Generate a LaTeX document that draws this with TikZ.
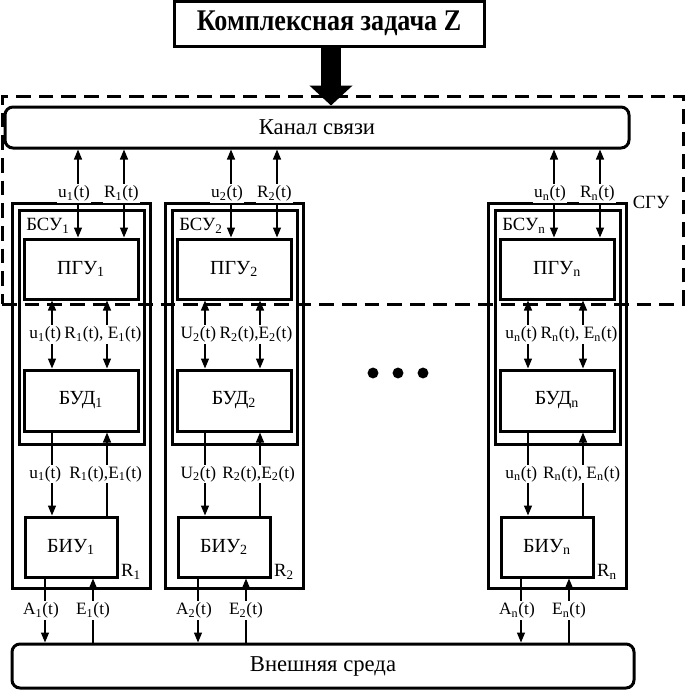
\documentclass[tikz,border=0pt]{standalone}
\usepackage{fontspec}
\usepackage{graphicx}
\setmainfont{Liberation Serif}
\usetikzlibrary{arrows.meta,calc}
\tikzset{
  frame/.style={draw, line width=2.25pt, inner sep=0pt},
  blk/.style={frame, font=\fontsize{15pt}{17pt}\selectfont},
  txt/.style={inner sep=0pt, font=\fontsize{14pt}{16pt}\selectfont},
  conn/.style={line width=1pt, -{Triangle[width=6pt,length=7.5pt]}},
  dconn/.style={line width=1pt, {Triangle[width=6pt,length=7.5pt]}-{Triangle[width=6pt,length=7.5pt]}},
  lbl/.style={fill=white, inner sep=1pt, font=\fontsize{13pt}{15pt}\selectfont},
  dotnode/.style={circle, fill=black, inner sep=0pt, minimum size=8.2pt},
}
\newcommand\sbs[1]{\textsubscript{#1}}
\newcommand\grp[7]{%
  \begin{scope}[xshift={#1*0.75pt}]
  \node[frame, minimum width=103.5pt, minimum height=288.75pt] (R#2) at (81,395.5) {};
  \node[frame, minimum width=93.75pt, minimum height=175.5pt] (S#2) at (81.5,327) {};
  \node[blk, minimum width=85.5pt, minimum height=45pt] (P#2) at (81,269) {ПГУ\sbs{#3}};
  \node[blk, minimum width=85.5pt, minimum height=45.75pt] (D#2) at (81,400.5) {БУД\sbs{#3}};
  \node[blk, minimum width=69pt, minimum height=45pt] (I#2) at (71,547) {БИУ\sbs{#3}};
  \node[txt, anchor=west] (SL#2) at (26,226) {БСУ\sbs{#3}};
  \node[txt] (RL#2) at (131,572) {R\sbs{#3}};
  \draw[dconn] (chan.south -| 78,0) -- node[lbl, xshift=-3pt]{u\sbs{#3}(t)} (P#2.north -| 78,0);
  \draw[dconn] (chan.south -| 124,0) -- node[lbl, xshift=-2pt]{R\sbs{#3}(t)} (P#2.north -| 124,0);
  \draw[dconn] (P#2.south -| 52,0) -- node[lbl, xshift=-5pt]{#4\sbs{#3}(t)} (D#2.north -| 52,0);
  \draw[dconn] (P#2.south -| 107,0) -- node[lbl, xshift=-3pt]{R\sbs{#3}(t)#6E\sbs{#3}(t)} (D#2.north -| 107,0);
  \draw[conn] (D#2.south -| 52,0) -- node[lbl, xshift=-5pt]{#5\sbs{#3}(t)} (I#2.north -| 52,0);
  \draw[conn] (I#2.north -| 107,0) -- node[lbl, xshift=-1pt]{R\sbs{#3}(t)#7E\sbs{#3}(t)} (D#2.south -| 107,0);
  \draw[conn] (I#2.south -| 45,0) -- node[lbl, xshift=-3pt]{A\sbs{#3}(t)} (env.north -| 45,0);
  \draw[conn] (env.north -| 93,0) -- node[lbl]{E\sbs{#3}(t)} (I#2.south -| 93,0);
  \end{scope}}
\begin{document}
\begin{tikzpicture}[x=0.75pt,y=-0.75pt]
\useasboundingbox (0,0) rectangle (686,690);
% system region
\node[draw, line width=2.25pt, dash pattern=on 11pt off 6pt, inner sep=0pt,
      minimum width=510.75pt, minimum height=156pt] (sgu) at (342.5,200) {};
\node[txt] (sgul) at (651,202) {СГУ};
% title
\node[frame, minimum width=232.5pt, minimum height=33.75pt] (task) at (329,23.5)
  {\fontsize{22.5pt}{24pt}\selectfont\bfseries\scalebox{0.87}[1]{Комплексная задача Z}};
% channel and environment
\node[frame, rounded corners=6pt, minimum width=468pt, minimum height=30.75pt,
      font=\fontsize{17pt}{19pt}\selectfont] (chan) at (317,127.5) {Канал связи};
\node[frame, rounded corners=6pt, minimum width=466.5pt, minimum height=33pt,
      font=\fontsize{17pt}{19pt}\selectfont] (env) at (323,666) {Внешняя среда};
% thick arrow
\draw[line width=15pt, -{Triangle[width=31.5pt,length=15pt]}] (task.south -| 331,0) -- (chan.north -| 331,0);
% groups
\grp{0}{a}{1}{u}{u}{, }{,}
\grp{153}{b}{2}{U}{U}{,}{,}
\grp{476}{c}{n}{u}{u}{, }{, }
% dots
\node[dotnode] (d1) at (373,373) {};
\node[dotnode] (d2) at (398,373) {};
\node[dotnode] (d3) at (423,373) {};
\end{tikzpicture}
\end{document}
